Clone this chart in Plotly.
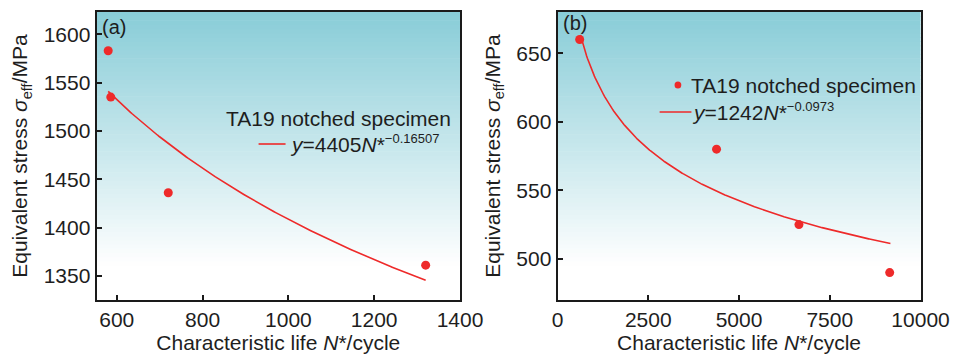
import numpy as np
import plotly.graph_objects as go

# ---- data ----
life_a = [580, 586, 720, 1320]          # N* (cycles), panel (a)
stress_a = [1583, 1535, 1436, 1361]     # sigma_eff (MPa)
fit_a_coef, fit_a_exp = 4405, -0.16507
fit_a_range = [580, 1320]

life_b = [610, 4380, 6650, 9150]        # panel (b)
stress_b = [660, 580, 525, 490]
fit_b_coef, fit_b_exp = 1242, -0.0973
fit_b_range = [630, 9170]

xticks_a = [600, 800, 1000, 1200, 1400]
yticks_a = [1350, 1400, 1450, 1500, 1550, 1600]
xticks_b = [0, 2500, 5000, 7500, 10000]
yticks_b = [500, 550, 600, 650]

legend_label = "TA19 notched specimen"
eq_a = "<i>y</i>=4405<i>N</i>*<sup><span style='font-size:13px'>−0.16507</span></sup>"
eq_b = "<i>y</i>=1242<i>N</i>*<sup><span style='font-size:13px'>−0.0973</span></sup>"

W, H = 973, 355
RED = "#ee2a2a"
FONT = "Liberation Sans, Arial, sans-serif"
TXT = "#1e1e1e"

def px(x):
    return x / W

def py(y):
    return 1 - y / H

fig = go.Figure()

na = np.linspace(fit_a_range[0], fit_a_range[1], 200)
nb = np.linspace(fit_b_range[0], fit_b_range[1], 400)

fig.add_trace(go.Scatter(x=na, y=fit_a_coef * na ** fit_a_exp, mode="lines",
                         line=dict(color=RED, width=1.6), xaxis="x", yaxis="y",
                         showlegend=False))
fig.add_trace(go.Scatter(x=life_a, y=stress_a, mode="markers",
                         marker=dict(color=RED, size=9), xaxis="x", yaxis="y",
                         showlegend=False, cliponaxis=False))
fig.add_trace(go.Scatter(x=nb, y=fit_b_coef * nb ** fit_b_exp, mode="lines",
                         line=dict(color=RED, width=1.6), xaxis="x2", yaxis="y2",
                         showlegend=False))
fig.add_trace(go.Scatter(x=life_b, y=stress_b, mode="markers",
                         marker=dict(color=RED, size=9), xaxis="x2", yaxis="y2",
                         showlegend=False, cliponaxis=False))

# gradient background bands
shapes = []
top = np.array([137, 205, 216])
white = np.array([255, 255, 255])
nb_bands = 60
grad_end = 0.12  # fraction of domain height (from bottom) where it becomes white
for sub in ["", "2"]:
    for i in range(nb_bands):
        y0 = grad_end + (1 - grad_end) * i / nb_bands
        y1 = grad_end + (1 - grad_end) * (i + 1) / nb_bands
        t = (i + 0.5) / nb_bands
        c = white + (top - white) * t
        shapes.append(dict(type="rect", xref=f"x{sub} domain", yref=f"y{sub} domain",
                           x0=0, x1=1, y0=y0 - 0.001, y1=y1 + 0.001, layer="below",
                           line=dict(width=0),
                           fillcolor=f"rgb({int(c[0])},{int(c[1])},{int(c[2])})"))

# legend line samples
shapes.append(dict(type="line", xref="paper", yref="paper", x0=px(262), x1=px(290),
                   y0=py(144), y1=py(144), line=dict(color=RED, width=1.6)))
shapes.append(dict(type="line", xref="paper", yref="paper", x0=px(678), x1=px(711),
                   y0=py(112), y1=py(112), line=dict(color=RED, width=1.6)))
# legend marker for (b)
shapes.append(dict(type="circle", xref="paper", yref="paper",
                   x0=px(693.5), x1=px(700.5), y0=py(88.5), y1=py(81.5),
                   fillcolor=RED, line=dict(width=0)))

annotations = [
    dict(text="(a)", x=px(98), y=py(27), xref="paper", yref="paper", xanchor="left",
         yanchor="middle", showarrow=False, font=dict(size=20, color=TXT, family=FONT)),
    dict(text="(b)", x=px(576), y=py(23), xref="paper", yref="paper", xanchor="left",
         yanchor="middle", showarrow=False, font=dict(size=20, color=TXT, family=FONT)),
    dict(text=legend_label, x=px(226), y=py(118), xref="paper", yref="paper",
         xanchor="left", yanchor="middle", showarrow=False,
         font=dict(size=21, color=TXT, family=FONT)),
    dict(text=eq_a, x=px(293), y=py(143), xref="paper", yref="paper",
         xanchor="left", yanchor="middle", showarrow=False,
         font=dict(size=21, color=TXT, family=FONT)),
    dict(text=legend_label, x=px(708), y=py(85), xref="paper", yref="paper",
         xanchor="left", yanchor="middle", showarrow=False,
         font=dict(size=21, color=TXT, family=FONT)),
    dict(text=eq_b, x=px(710), y=py(111), xref="paper", yref="paper",
         xanchor="left", yanchor="middle", showarrow=False,
         font=dict(size=21, color=TXT, family=FONT)),
]

axis_common = dict(showline=True, linecolor="#1a1a1a", linewidth=2, mirror=True,
                   ticks="inside", ticklen=5, tickwidth=1.5, tickcolor="#1a1a1a",
                   showgrid=False, zeroline=False, tickformat="d",
                   tickfont=dict(size=21, color=TXT, family=FONT))

ytitle = "Equivalent stress <i>σ</i><sub>eff</sub>/MPa"
xtitle = "Characteristic life <i>N</i>*/cycle"

fig.update_layout(
    width=W, height=H,
    margin=dict(l=0, r=0, t=0, b=0),
    paper_bgcolor="white", plot_bgcolor="white",
    showlegend=False,
    shapes=shapes, annotations=annotations,
    xaxis=dict(domain=[0.0966, 0.484], range=[553, 1400], tickvals=xticks_a,
               title=dict(text=xtitle, font=dict(size=21, color=TXT, family=FONT), standoff=4),
               anchor="y", **axis_common),
    yaxis=dict(domain=[0.155, 0.966], range=[1325, 1623], tickvals=yticks_a,
               title=dict(text=ytitle, font=dict(size=21, color=TXT, family=FONT), standoff=10),
               anchor="x", **axis_common),
    xaxis2=dict(domain=[0.588, 0.975], range=[0, 10000], tickvals=xticks_b,
                title=dict(text=xtitle, font=dict(size=21, color=TXT, family=FONT), standoff=4),
                anchor="y2", **axis_common),
    yaxis2=dict(domain=[0.155, 0.966], range=[470, 680], tickvals=yticks_b,
                title=dict(text=ytitle, font=dict(size=21, color=TXT, family=FONT), standoff=10),
                anchor="x2", **axis_common),
)

fig.write_html("out.html")
